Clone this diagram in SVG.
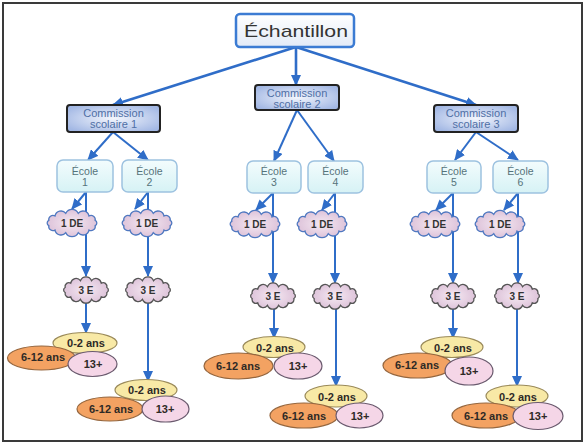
<svg xmlns="http://www.w3.org/2000/svg" xmlns:xlink="http://www.w3.org/1999/xlink" width="585" height="444" viewBox="0 0 585 444">
<defs>
<linearGradient id="gE" x1="0" y1="0" x2="0" y2="1"><stop offset="0" stop-color="#ffffff"/><stop offset="1" stop-color="#e2eaf7"/></linearGradient>
<radialGradient id="gCS" cx="0.5" cy="0.5" r="0.6"><stop offset="0" stop-color="#f3f6fd"/><stop offset="1" stop-color="#a3b8e4"/></radialGradient>
<linearGradient id="gEc" x1="0" y1="0" x2="0" y2="1"><stop offset="0" stop-color="#f3fcfd"/><stop offset="1" stop-color="#d6f2f5"/></linearGradient>
<radialGradient id="gCl" cx="0.5" cy="0.5" r="0.6"><stop offset="0" stop-color="#f5e9f2"/><stop offset="1" stop-color="#d9bcd5"/></radialGradient>
<marker id="ah" markerWidth="11" markerHeight="10" refX="10" refY="5" orient="auto" markerUnits="userSpaceOnUse"><path d="M0,0 L11,5 L0,10 z" fill="#2f6dc8"/></marker>
<path id="cloud" vector-effect="non-scaling-stroke" d="M23.18,-2.59 A2.85,2.85 0 0 1 23.18,2.59 A4.2,4.2 0 0 1 16.97,7.07 A6.1,6.1 0 0 1 6.21,9.66 A6.85,6.85 0 0 1 -6.21,9.66 A6.1,6.1 0 0 1 -16.97,7.07 A4.2,4.2 0 0 1 -23.18,2.59 A2.85,2.85 0 0 1 -23.18,-2.59 A4.2,4.2 0 0 1 -16.97,-7.07 A6.1,6.1 0 0 1 -6.21,-9.66 A6.85,6.85 0 0 1 6.21,-9.66 A6.1,6.1 0 0 1 16.97,-7.07 A4.2,4.2 0 0 1 23.18,-2.59 Z"/>
</defs>
<style>
.frame{fill:#ffffff;stroke:#3a3a3a;stroke-width:2}
.conn line{stroke:#2f6dc8;stroke-width:2;marker-end:url(#ah)}
.conn line.top{stroke-width:2.6}
.root{fill:url(#gE);stroke:#3b7bd3;stroke-width:2.5}
.cs{fill:url(#gCS);stroke:#222;stroke-width:2}
.ecole{fill:url(#gEc);stroke:#9dc2e0;stroke-width:1.5}
.de{fill:url(#gCl);stroke:#4f78c0;stroke-width:1.3}
.e3{fill:url(#gCl);stroke:#555;stroke-width:1.3}
.y{fill:#f8e9a6;stroke:#9a8a5a;stroke-width:1.2}
.o{fill:#f3a262;stroke:#95663e;stroke-width:1.2}
.p{fill:#f5d6e7;stroke:#6a5a6e;stroke-width:1.2}
text{font-family:"Liberation Sans",Arial,sans-serif;text-anchor:middle}
.tRoot{font-size:17px;fill:#333}
.tCS{font-size:11px;fill:#4f6fa5}
.tEc{font-size:10.5px;fill:#55737a}
.tC{font-size:10px;font-weight:bold;fill:#333}
.tA{font-size:11px;font-weight:bold;fill:#2e2a26}
</style>
<rect class="frame" x="3" y="3" width="579" height="438"/>
<g id="connectors" class="conn">
<line class="top" x1="296" y1="47" x2="113" y2="105"/>
<line class="top" x1="296" y1="47" x2="296" y2="85"/>
<line class="top" x1="296" y1="47" x2="476" y2="105"/>
<line x1="113" y1="132" x2="88" y2="160"/>
<line x1="113" y1="132" x2="148" y2="160"/>
<line x1="297" y1="110" x2="274" y2="161"/>
<line x1="297" y1="110" x2="334" y2="161"/>
<line x1="476" y1="132" x2="455" y2="160"/>
<line x1="476" y1="132" x2="518" y2="160"/>
<line x1="86" y1="192" x2="72" y2="209"/>
<line x1="148" y1="192" x2="135" y2="209"/>
<line x1="273" y1="193" x2="256" y2="210"/>
<line x1="335" y1="193" x2="322" y2="210"/>
<line x1="453" y1="193" x2="436" y2="210"/>
<line x1="518" y1="193" x2="504" y2="210"/>
<line x1="86" y1="192" x2="86" y2="276"/>
<line x1="148" y1="192" x2="148" y2="276"/>
<line x1="273" y1="193" x2="273" y2="283"/>
<line x1="335" y1="193" x2="335" y2="283"/>
<line x1="453" y1="193" x2="453" y2="283"/>
<line x1="518" y1="193" x2="518" y2="283"/>
<line x1="86" y1="302" x2="86" y2="333"/>
<line x1="148" y1="302" x2="148" y2="381"/>
<line x1="274" y1="308" x2="274" y2="338"/>
<line x1="336" y1="308" x2="336" y2="386"/>
<line x1="453" y1="308" x2="453" y2="338"/>
<line x1="517" y1="308" x2="517" y2="386"/>
</g>
<g id="echantillon"><rect class="root" x="236" y="14" width="118" height="33" rx="4"/><text class="tRoot" x="296" y="37" textLength="104" lengthAdjust="spacingAndGlyphs">Échantillon</text></g>
<g id="cs1"><rect class="cs" x="67" y="105" width="93" height="27" rx="3"/><text class="tCS" x="113.5" y="117">Commission</text><text class="tCS" x="113.5" y="128">scolaire 1</text></g>
<g id="cs2"><rect class="cs" x="255" y="85" width="84" height="25" rx="3"/><text class="tCS" x="297" y="97">Commission</text><text class="tCS" x="297" y="107.5">scolaire 2</text></g>
<g id="cs3"><rect class="cs" x="434" y="105" width="84" height="27" rx="3"/><text class="tCS" x="476" y="117">Commission</text><text class="tCS" x="476" y="128">scolaire 3</text></g>
<g id="ecole1"><rect class="ecole" x="57" y="160" width="56" height="32" rx="6"/><text class="tEc" x="85" y="175">École</text><text class="tEc" x="85" y="186">1</text></g>
<g id="ecole2"><rect class="ecole" x="122" y="160" width="55" height="32" rx="6"/><text class="tEc" x="149.5" y="175">École</text><text class="tEc" x="149.5" y="186">2</text></g>
<g id="ecole3"><rect class="ecole" x="247" y="161" width="54" height="32" rx="6"/><text class="tEc" x="274" y="175">École</text><text class="tEc" x="274" y="186">3</text></g>
<g id="ecole4"><rect class="ecole" x="308" y="161" width="55" height="32" rx="6"/><text class="tEc" x="335.5" y="175">École</text><text class="tEc" x="335.5" y="186">4</text></g>
<g id="ecole5"><rect class="ecole" x="427" y="161" width="54" height="32" rx="6"/><text class="tEc" x="454" y="175">École</text><text class="tEc" x="454" y="186">5</text></g>
<g id="ecole6"><rect class="ecole" x="493" y="161" width="55" height="32" rx="6"/><text class="tEc" x="520.5" y="175">École</text><text class="tEc" x="520.5" y="186">6</text></g>
<g id="de1"><use xlink:href="#cloud" class="de" transform="translate(72,223)"/><text class="tC" x="72" y="226.5">1 DE</text></g>
<g id="de2"><use xlink:href="#cloud" class="de" transform="translate(147,223)"/><text class="tC" x="147" y="226.5">1 DE</text></g>
<g id="de3"><use xlink:href="#cloud" class="de" transform="translate(255,224)"/><text class="tC" x="255" y="227.5">1 DE</text></g>
<g id="de4"><use xlink:href="#cloud" class="de" transform="translate(322,224)"/><text class="tC" x="322" y="227.5">1 DE</text></g>
<g id="de5"><use xlink:href="#cloud" class="de" transform="translate(435,224)"/><text class="tC" x="435" y="227.5">1 DE</text></g>
<g id="de6"><use xlink:href="#cloud" class="de" transform="translate(500,224)"/><text class="tC" x="500" y="227.5">1 DE</text></g>
<g id="e3_1"><use xlink:href="#cloud" class="e3" transform="translate(86,290) scale(0.9,0.97)"/><text class="tC" x="86" y="293.5">3 E</text></g>
<g id="e3_2"><use xlink:href="#cloud" class="e3" transform="translate(148,290) scale(0.9,0.97)"/><text class="tC" x="148" y="293.5">3 E</text></g>
<g id="e3_3"><use xlink:href="#cloud" class="e3" transform="translate(273,296) scale(0.9,0.97)"/><text class="tC" x="273" y="299.5">3 E</text></g>
<g id="e3_4"><use xlink:href="#cloud" class="e3" transform="translate(335,296) scale(0.9,0.97)"/><text class="tC" x="335" y="299.5">3 E</text></g>
<g id="e3_5"><use xlink:href="#cloud" class="e3" transform="translate(453,296) scale(0.9,0.97)"/><text class="tC" x="453" y="299.5">3 E</text></g>
<g id="e3_6"><use xlink:href="#cloud" class="e3" transform="translate(517,296) scale(0.9,0.97)"/><text class="tC" x="517" y="299.5">3 E</text></g>
<g id="ages1">
<ellipse class="y" cx="85" cy="343" rx="32" ry="10.5"/><text class="tA" x="86" y="347">0-2 ans</text>
<ellipse class="o" cx="41.5" cy="358" rx="34" ry="12"/><text class="tA" x="43" y="361">6-12 ans</text>
<ellipse class="p" cx="92.5" cy="364" rx="24.5" ry="12.5"/><text class="tA" x="93" y="368">13+</text>
</g>
<g id="ages2">
<ellipse class="y" cx="146" cy="390" rx="31" ry="10.5"/><text class="tA" x="147" y="393.5">0-2 ans</text>
<ellipse class="o" cx="110" cy="409" rx="33" ry="12"/><text class="tA" x="111" y="412.5">6-12 ans</text>
<ellipse class="p" cx="165.5" cy="409" rx="23.5" ry="13"/><text class="tA" x="165" y="412.5">13+</text>
</g>
<g id="ages3">
<ellipse class="y" cx="274" cy="347" rx="31" ry="10.5"/><text class="tA" x="275" y="352">0-2 ans</text>
<ellipse class="o" cx="238.5" cy="366" rx="34.5" ry="13"/><text class="tA" x="238" y="370">6-12 ans</text>
<ellipse class="p" cx="298" cy="366" rx="24" ry="13"/><text class="tA" x="298" y="370">13+</text>
</g>
<g id="ages4">
<ellipse class="y" cx="336" cy="396" rx="31" ry="11"/><text class="tA" x="337" y="401">0-2 ans</text>
<ellipse class="o" cx="304" cy="415.5" rx="34" ry="12.5"/><text class="tA" x="304" y="419.5">6-12 ans</text>
<ellipse class="p" cx="359.5" cy="415.5" rx="23.5" ry="12.5"/><text class="tA" x="360" y="419.5">13+</text>
</g>
<g id="ages5">
<ellipse class="y" cx="452" cy="347" rx="31" ry="10.5"/><text class="tA" x="453" y="352">0-2 ans</text>
<ellipse class="o" cx="417.5" cy="365.5" rx="34.5" ry="12.5"/><text class="tA" x="417" y="369">6-12 ans</text>
<ellipse class="p" cx="469" cy="371" rx="24" ry="14"/><text class="tA" x="469" y="375">13+</text>
</g>
<g id="ages6">
<ellipse class="y" cx="517" cy="396" rx="31" ry="11"/><text class="tA" x="518" y="401">0-2 ans</text>
<ellipse class="o" cx="486" cy="415.5" rx="34" ry="12.5"/><text class="tA" x="486" y="419.5">6-12 ans</text>
<ellipse class="p" cx="538" cy="416" rx="25" ry="13.5"/><text class="tA" x="538" y="420">13+</text>
</g>
</svg>
